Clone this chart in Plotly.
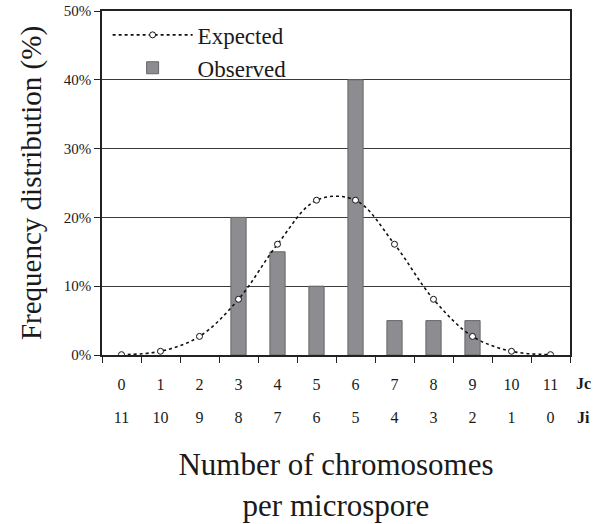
import plotly.graph_objects as go

# Data
jc_labels = ["0", "1", "2", "3", "4", "5", "6", "7", "8", "9", "10", "11"]
ji_labels = ["11", "10", "9", "8", "7", "6", "5", "4", "3", "2", "1", "0"]
categories = list(range(12))
expected = [0.05, 0.54, 2.7, 8.1, 16.1, 22.5, 22.5, 16.1, 8.1, 2.7, 0.54, 0.05]
observed = [0, 0, 0, 20, 15, 10, 40, 5, 5, 5, 0, 0]
y_ticks = [0, 10, 20, 30, 40, 50]
y_labels = ["0%", "10%", "20%", "30%", "40%", "50%"]

FONT = "Liberation Serif, Times New Roman, serif"
TXT = "#1a1a1a"

fig = go.Figure()

fig.add_trace(go.Scatter(
    x=categories, y=expected, name="Expected",
    mode="lines+markers",
    line=dict(color="#111111", width=1.6, dash="dot", shape="spline", smoothing=1.0),
    marker=dict(symbol="circle", size=6, color="white", line=dict(color="#111111", width=1)),
))

fig.add_trace(go.Bar(
    x=categories, y=[v if v else None for v in observed], name="Observed",
    width=0.39,
    marker=dict(color="#8d8d91", line=dict(color="#666666", width=1)),
))

# hidden trace to carry second label row
fig.add_trace(go.Scatter(x=categories, y=[None]*12, xaxis="x2", showlegend=False, hoverinfo="skip"))

fig.update_layout(
    width=603, height=524,
    margin=dict(l=102, r=33, t=11, b=169, autoexpand=False),
    plot_bgcolor="white", paper_bgcolor="white",
    font=dict(family=FONT, color=TXT),
    showlegend=True,
    legend=dict(
        x=0.012, y=0.993, xanchor="left", yanchor="top",
        font=dict(family=FONT, size=23, color=TXT),
        bgcolor="rgba(0,0,0,0)", itemwidth=80,
        tracegroupgap=0, traceorder="normal",
    ),
    xaxis=dict(
        range=[-0.5, 11.5], automargin=False,
        tickmode="array", tickvals=categories, ticktext=jc_labels,
        ticks="", showgrid=False, zeroline=False,
        showline=True, linecolor="#222222", linewidth=1.5, mirror=True,
        tickfont=dict(family=FONT, size=16, color=TXT),
        ticklabelstandoff=14,
        minor=dict(tickmode="array", tickvals=[c - 0.5 for c in categories] + [11.5],
                   ticks="outside", ticklen=6, tickcolor="#222222", tickwidth=1),
    ),
    xaxis2=dict(
        overlaying="x", matches="x", side="bottom", anchor="y", automargin=False,
        range=[-0.5, 11.5],
        tickmode="array", tickvals=categories, ticktext=ji_labels,
        ticks="", showgrid=False, zeroline=False, showline=False,
        tickfont=dict(family=FONT, size=16, color=TXT),
        ticklabelstandoff=51,
        title=dict(text="Number of chromosomes<br>per microspore",
                   font=dict(family=FONT, size=31, color=TXT), standoff=28),
    ),
    yaxis=dict(
        range=[0, 50], automargin=False,
        tickmode="array", tickvals=y_ticks, ticktext=y_labels,
        ticks="outside", ticklen=6, tickcolor="#222222",
        showgrid=True, gridcolor="#3a3a3a", gridwidth=1,
        zeroline=False, ticklabeloverflow="allow",
        showline=True, linecolor="#222222", linewidth=1.5, mirror=True,
        tickfont=dict(family=FONT, size=15, color=TXT),
        title=dict(text="Frequency distribution (%)",
                   font=dict(family=FONT, size=29, color=TXT), standoff=14),
    ),
    annotations=[
        dict(text="<b>Jc</b>", xref="paper", yref="paper", x=1.028, y=-0.084,
             xanchor="center", yanchor="middle", showarrow=False,
             font=dict(family=FONT, size=16, color=TXT)),
        dict(text="<b>Ji</b>", xref="paper", yref="paper", x=1.028, y=-0.183,
             xanchor="center", yanchor="middle", showarrow=False,
             font=dict(family=FONT, size=16, color=TXT)),
    ],
)

fig.write_html("out.html", config={"displayModeBar": False},
               post_script="document.body.style.margin='0';")
